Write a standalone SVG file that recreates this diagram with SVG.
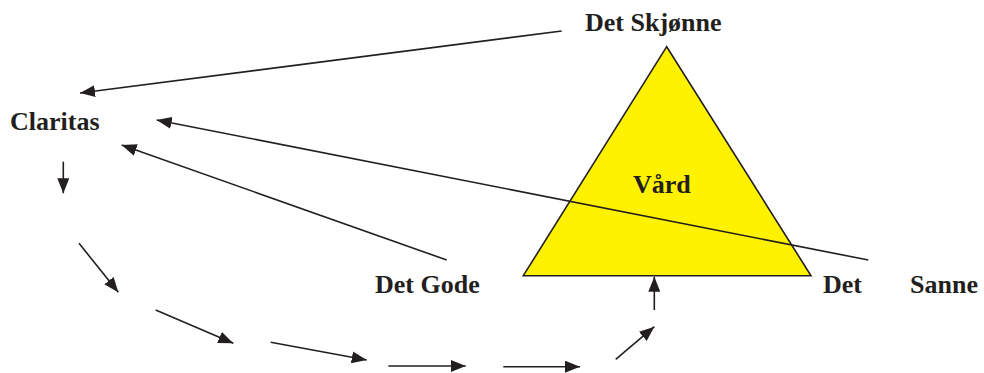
<svg xmlns="http://www.w3.org/2000/svg" width="984" height="373" viewBox="0 0 984 373">
<style>
.t{font-family:"Liberation Serif","Times New Roman",serif;font-weight:bold;font-size:26px;fill:#231F20}
.c{stroke:#231F20;stroke-width:1.6;fill:none}
.a{marker-end:url(#ah)}
</style>
<defs>
<marker id="ah" markerUnits="userSpaceOnUse" markerWidth="16" markerHeight="12" refX="15" refY="6" orient="auto">
<path d="M0,0 L15,6 L0,12 z" fill="#231F20"/>
</marker>
</defs>
<rect width="984" height="373" fill="#ffffff"/>
<g id="triangle">
<polygon points="666.7,46.7 523.3,275.7 811,275.7" fill="#FFF200" stroke="#231F20" stroke-width="1.6"/>
</g>
<g id="connectors">
<line class="c a" x1="561.7" y1="31" x2="80" y2="93"/>
<line class="c a" x1="868.3" y1="260" x2="156.7" y2="120"/>
<line class="c a" x1="446.7" y1="260" x2="121.7" y2="145"/>
<line class="c a" x1="63.3" y1="161.7" x2="63.3" y2="193.3"/>
<line class="c a" x1="79" y1="243.3" x2="118.3" y2="292.3"/>
<line class="c a" x1="155.7" y1="310" x2="233.3" y2="343.3"/>
<line class="c a" x1="270.7" y1="342.3" x2="366.7" y2="360"/>
<line class="c a" x1="388.3" y1="366" x2="465.7" y2="366"/>
<line class="c a" x1="503.3" y1="366.7" x2="580" y2="366.7"/>
<line class="c a" x1="615.7" y1="359.3" x2="654.3" y2="326.7"/>
<line class="c a" x1="654.3" y1="310" x2="654.3" y2="276.7"/>
</g>
<g id="det-skjonne"><text class="t" x="585" y="31">Det Skjønne</text></g>
<g id="claritas"><text class="t" x="10" y="130">Claritas</text></g>
<g id="vard"><text class="t" x="633" y="193">Vård</text></g>
<g id="det-gode"><text class="t" x="375" y="293">Det Gode</text></g>
<g id="det-sanne"><text class="t" x="823" y="293">Det</text><text class="t" x="910" y="293">Sanne</text></g>
</svg>
